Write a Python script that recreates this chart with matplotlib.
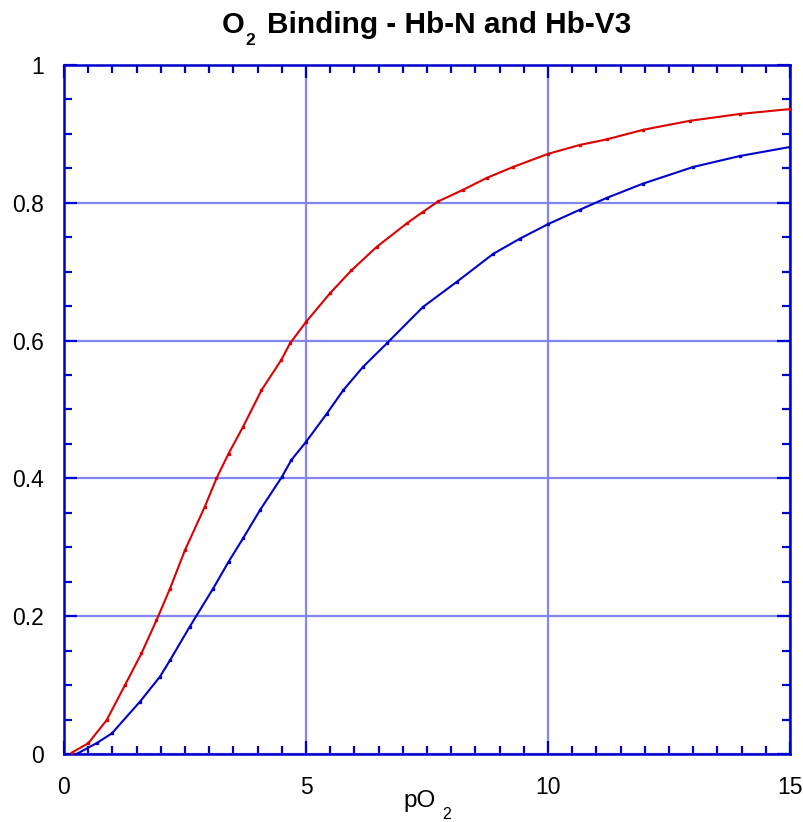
import matplotlib
matplotlib.use("Agg")
import matplotlib.pyplot as plt
from matplotlib.ticker import MultipleLocator

plt.rcParams['font.family'] = ['Liberation Sans', 'DejaVu Sans']

# Hb-N (red)
hbn_x = [0.16, 0.5, 0.88, 1.26, 1.6, 1.91, 2.19, 2.50, 2.91, 3.15, 3.40, 3.70, 4.08,
         4.49, 4.67, 5.0, 5.50, 5.94, 6.46, 7.08, 7.42, 7.73, 8.25, 8.73, 9.28, 10.0,
         10.66, 11.21, 11.97, 12.93, 13.97, 15.0]
hbn_y = [0.002, 0.0155, 0.049, 0.10, 0.146, 0.194, 0.240, 0.296, 0.359, 0.400, 0.436,
         0.475, 0.528, 0.572, 0.596, 0.627, 0.669, 0.702, 0.736, 0.770, 0.787, 0.802,
         0.819, 0.836, 0.852, 0.871, 0.884, 0.892, 0.906, 0.919, 0.929, 0.936]

# Hb-V3 (blue)
hbv_x = [0.26, 0.68, 0.99, 1.57, 1.98, 2.19, 2.60, 3.08, 3.40, 3.70, 4.05, 4.50, 4.70,
         5.0, 5.43, 5.77, 6.18, 6.67, 7.42, 8.11, 8.87, 9.42, 10.0, 10.66, 11.21,
         11.97, 13.0, 13.97, 15.0]
hbv_y = [0.0, 0.016, 0.030, 0.076, 0.112, 0.136, 0.185, 0.240, 0.279, 0.313, 0.354,
         0.402, 0.427, 0.453, 0.494, 0.528, 0.562, 0.596, 0.649, 0.685, 0.726, 0.748,
         0.769, 0.790, 0.807, 0.828, 0.852, 0.868, 0.881]

x_ticks = [0, 5, 10, 15]
y_ticks = [0, 0.2, 0.4, 0.6, 0.8, 1]
y_tick_labels = ['0', '0.2', '0.4', '0.6', '0.8', '1']

AX_BLUE = '#0000CC'
GRID = '#8585EE'

W, H = 804, 822
fig = plt.figure(figsize=(W / 100, H / 100), dpi=100)
ax = fig.add_axes([64/W, 1-754/H, (790-64)/W, (754-65)/H])

ax.plot(hbv_x, hbv_y, color='#0000CC', lw=1.5, marker='s', ms=1.6, zorder=3)
ax.plot(hbn_x, hbn_y, color='#DD0000', lw=1.5, marker='s', ms=1.6, zorder=3)

ax.set_xlim(0, 15)
ax.set_ylim(0, 1)
ax.set_xticks(x_ticks)
ax.set_yticks(y_ticks)
ax.set_yticklabels(y_tick_labels)
ax.xaxis.set_minor_locator(MultipleLocator(0.5))
ax.yaxis.set_minor_locator(MultipleLocator(0.05))

ax.grid(True, which='major', color=GRID, lw=1.6, zorder=1)
ax.set_axisbelow(True)

for s in ax.spines.values():
    s.set_color(AX_BLUE)
    s.set_linewidth(1.8)

ax.tick_params(which='both', direction='in', top=True, right=True, color=AX_BLUE,
               width=1.6, labelsize=16.5, labelcolor='black')
ax.tick_params(which='major', length=9.5)
ax.tick_params(which='minor', length=5.5)
ax.tick_params(axis='x', pad=15.5)
ax.tick_params(axis='y', pad=14.5)


def fx(px):
    return px / W


def fy(px):
    return 1 - px / H


# Title with a lowered subscript
fig.text(fx(222), fy(33), "O", fontsize=21, fontweight='bold', ha='left', va='baseline')
fig.text(fx(245), fy(45), "2", fontsize=12.5, fontweight='bold', ha='left', va='baseline')
fig.text(fx(267), fy(33), "Binding - Hb-N and Hb-V3", fontsize=21.4, fontweight='bold',
         ha='left', va='baseline')

# x-axis label with a lowered subscript
fig.text(fx(403), fy(807), "pO", fontsize=17.5, ha='left', va='baseline')
fig.text(fx(442), fy(819), "2", fontsize=11.5, ha='left', va='baseline')

fig.savefig('out.png', dpi=100)
